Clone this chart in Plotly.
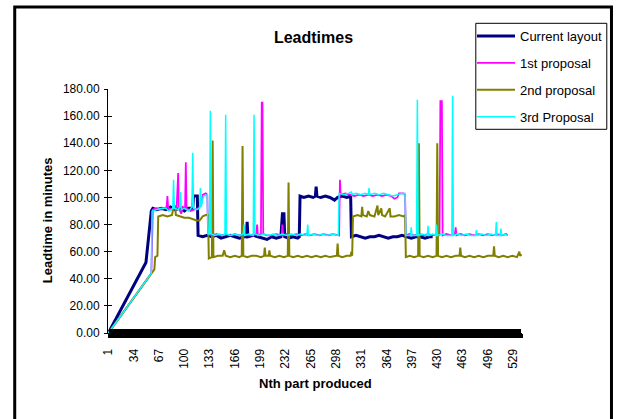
import plotly.graph_objects as go

# ---------------- data: line vertices ----------------
# x = "Nth part produced" (category number), y = leadtime in minutes
current_x = [1, 50, 57, 59, 64, 70, 76, 82, 88, 94, 100, 105, 111, 112, 117, 118,
             124, 130, 136, 142, 148, 154, 160, 166, 172, 178, 181, 182, 183, 190,
             196, 202, 208, 214, 220, 226, 228, 230, 231, 236, 242, 248, 250, 251,
             256, 262, 268, 271, 272, 273, 278, 284, 290, 296, 300, 306, 312, 317,
             318, 324, 330, 336, 342, 348, 354, 360, 366, 372, 378, 384, 390, 396,
             402, 408, 414, 420, 424]
current_y = [0, 52, 90, 92, 91, 92, 91, 93, 91, 92, 90, 92, 92, 101, 101, 72,
             71, 72, 71, 72, 70, 71, 72, 71, 70, 71, 71, 82, 71, 72,
             71, 70, 69, 71, 70, 71, 88, 88, 71, 70, 71, 70, 71, 101,
             100, 101, 100, 101, 108, 101, 100, 101, 100, 98, 100, 101, 100, 101,
             71, 72, 71, 70, 71, 71, 72, 71, 70, 71, 71, 72, 71, 70,
             71, 71, 70, 71, 71]

first_x = [1, 57, 59, 64, 70, 76, 77, 78, 79, 84, 88, 90, 92, 93, 96, 98, 101, 102,
           103, 108, 114, 118, 122, 124, 128, 130, 131, 136, 142, 148, 154, 160,
           166, 172, 178, 184, 190, 194, 195, 196, 200, 201, 202, 203, 208, 214,
           220, 226, 227, 228, 229, 234, 240, 246, 252, 258, 264, 270, 276, 282,
           288, 294, 300, 302, 303, 304, 310, 316, 322, 328, 334, 340, 346, 352,
           358, 364, 370, 374, 378, 380, 386, 388, 389, 394, 400, 406, 412, 418,
           424, 430, 433, 434, 436, 437, 442, 448, 453, 454, 455, 460, 466, 472,
           478, 484, 490, 496, 502, 508, 514, 520, 522]
first_y = [0, 44, 91, 92, 91, 93, 93, 101, 92, 91, 93, 92, 118, 92, 88, 93, 92, 126,
           92, 90, 91, 92, 94, 102, 103, 102, 73, 72, 73, 72, 73, 72,
           73, 72, 73, 72, 72, 73, 80, 72, 73, 170, 170, 73, 72, 72,
           73, 72, 72, 80, 72, 73, 72, 73, 72, 73, 72, 73, 72, 73,
           72, 73, 72, 72, 113, 102, 103, 102, 101, 102, 101, 102, 101, 102,
           101, 102, 101, 99, 100, 103, 103, 102, 72, 73, 72, 73, 72, 73,
           72, 73, 72, 171, 171, 72, 73, 72, 73, 78, 72, 73, 72, 73,
           72, 73, 72, 73, 72, 73, 72, 73, 72]

second_x = [1, 61, 62, 65, 66, 72, 78, 84, 86, 88, 89, 94, 100, 106, 112, 116, 120,
            124, 128, 131, 132, 136, 137, 138, 144, 150, 152, 154, 160, 166, 172,
            175, 176, 177, 182, 188, 194, 200, 204, 205, 206, 210, 211, 212, 218,
            224, 230, 235, 236, 237, 242, 248, 254, 260, 266, 272, 278, 284, 290,
            296, 299, 300, 301, 306, 312, 317, 318, 319, 320, 326, 331, 332, 333,
            338, 340, 342, 348, 352, 353, 357, 358, 362, 368, 369, 374, 380, 386,
            388, 389, 394, 400, 405, 406, 407, 412, 418, 424, 429, 430, 431, 436,
            442, 448, 454, 459, 460, 461, 466, 472, 478, 484, 490, 496, 503, 504,
            505, 510, 516, 522, 528, 534, 537, 538, 540]
second_y = [0, 47, 56, 57, 86, 87, 86, 87, 93, 94, 87, 86, 85, 85, 84, 83, 83,
            86, 87, 87, 55, 56, 142, 56, 57, 57, 61, 57, 56, 57, 56,
            57, 138, 57, 56, 57, 57, 56, 57, 63, 57, 57, 61, 57, 56,
            57, 56, 57, 111, 57, 56, 57, 56, 57, 56, 57, 56, 57, 56,
            57, 57, 66, 57, 56, 57, 57, 60, 57, 86, 87, 86, 93, 87,
            86, 90, 87, 86, 94, 87, 92, 87, 86, 92, 86, 86, 87, 86,
            87, 56, 57, 56, 57, 140, 57, 56, 57, 56, 57, 140, 57, 56,
            57, 56, 57, 57, 63, 57, 56, 57, 56, 57, 56, 57, 57, 64,
            57, 56, 57, 56, 57, 56, 60, 57, 58]

third_x = [1, 57, 58, 64, 70, 76, 80, 85, 86, 87, 92, 94, 95, 96, 100, 106, 110,
           111, 112, 116, 120, 121, 122, 125, 130, 131, 133, 134, 135, 140, 146,
           150, 153, 154, 155, 160, 166, 172, 177, 178, 179, 184, 190, 191, 192,
           198, 204, 210, 216, 222, 228, 234, 240, 246, 252, 258, 260, 261, 262,
           268, 274, 280, 286, 292, 298, 301, 302, 308, 314, 318, 319, 324, 330,
           336, 340, 341, 342, 348, 354, 360, 366, 372, 378, 384, 388, 389, 395,
           396, 397, 403, 404, 405, 410, 417, 418, 419, 424, 428, 429, 430, 436,
           442, 449, 450, 451, 456, 462, 468, 474, 480, 481, 482, 488, 494, 500,
           506, 507, 508, 512, 513, 514, 518, 522]
third_y = [0, 44, 90, 91, 92, 92, 90, 92, 113, 92, 91, 93, 104, 91, 92, 90, 93,
           133, 92, 91, 92, 107, 93, 101, 102, 73, 73, 164, 73, 72, 73,
           72, 73, 161, 73, 72, 73, 72, 73, 80, 72, 73, 72, 161, 73,
           72, 73, 72, 73, 72, 73, 72, 73, 72, 73, 72, 73, 80, 72,
           73, 72, 73, 72, 73, 72, 72, 103, 102, 103, 104, 102, 103, 102,
           103, 102, 107, 102, 103, 102, 103, 102, 101, 102, 103, 103, 72, 72,
           78, 72, 72, 172, 72, 73, 72, 79, 72, 73, 72, 80, 72, 73,
           72, 72, 175, 72, 73, 72, 73, 72, 72, 76, 72, 73, 72, 73,
           72, 82, 72, 72, 77, 72, 73, 72]

series_names = ["Current layout", "1st proposal", "2nd proposal", "3rd Proposal"]
series_x = [current_x, first_x, second_x, third_x]
series_y = [current_y, first_y, second_y, third_y]

n_categories = 540
x_tick_labels = [1, 34, 67, 100, 133, 166, 199, 232, 265, 298, 331, 364, 397,
                 430, 463, 496, 529]
y_ticks = [0, 20, 40, 60, 80, 100, 120, 140, 160, 180]

# ---------------- styling ----------------
colors = ["#000080", "#FF00FF", "#808000", "#00FFFF"]
widths = [3, 1.75, 2, 1.5]

W, H = 619, 419
L, R, T, B = 108, 96, 89, 86
PW = W - L - R
PH = H - T - B


def px(xp):
    return (xp - L) / PW


def py(yp):
    return (H - B - yp) / PH


FONT = "Liberation Sans, Arial, sans-serif"

fig = go.Figure()
for i, name in enumerate(series_names):
    fig.add_trace(go.Scatter(
        x=series_x[i], y=series_y[i], mode="lines", name=name,
        line=dict(color=colors[i], width=widths[i]),
        legendgroup="g%d" % i, hoverinfo="skip"))

# empty helper traces so the overlaid tick-mark axes get drawn
for xa, ya in (("x2", "y"), ("x3", "y"), ("x", "y2")):
    fig.add_trace(go.Scatter(x=[], y=[], xaxis=xa, yaxis=ya, mode="lines",
                             showlegend=False, hoverinfo="skip"))

xr = [0.5, n_categories + 0.5]
common_band = dict(overlaying="x", anchor="y", side="bottom", range=xr,
                   tickmode="linear", tick0=0.5, dtick=1, ticklen=4,
                   tickwidth=1, tickcolor="black",
                   showticklabels=False, showgrid=False, zeroline=False,
                   showline=False, fixedrange=True)

fig.update_layout(
    width=W, height=H,
    margin=dict(l=L, r=R, t=T, b=B, pad=0),
    paper_bgcolor="white", plot_bgcolor="white",
    font=dict(family=FONT, size=12, color="black"),
    showlegend=True,
    title=dict(text="<b>Leadtimes</b>", xref="paper", x=px(314), xanchor="center",
               yref="container", y=1 - 37.5 / H, yanchor="middle",
               font=dict(size=16, family=FONT, color="black")),
    xaxis=dict(range=xr, tickmode="array", tickvals=x_tick_labels,
               ticktext=[str(v) for v in x_tick_labels], tickangle=-90,
               ticks="outside", ticklen=4, tickcolor="black",
               ticklabelstandoff=6,
               showline=True, linecolor="black", linewidth=1,
               showgrid=False, zeroline=False, tickfont=dict(size=12)),
    xaxis2=dict(ticks="outside", **common_band),
    xaxis3=dict(ticks="inside", **common_band),
    yaxis=dict(range=[0, 180], tickmode="array", tickvals=y_ticks,
               tickformat=".2f", ticks="outside", ticklen=3, tickcolor="black",
               ticklabelstandoff=2,
               showline=True, linecolor="black", linewidth=1,
               showgrid=False, zeroline=False, tickfont=dict(size=12)),
    yaxis2=dict(overlaying="y", anchor="x", side="left", range=[0, 180],
                tickmode="array", tickvals=y_ticks, ticks="inside", ticklen=4,
                tickcolor="black", showticklabels=False, showgrid=False,
                zeroline=False, showline=False),
    legend=dict(x=px(472), y=py(21), xanchor="left", yanchor="top",
                bgcolor="rgba(0,0,0,0)", borderwidth=0,
                font=dict(size=13, family=FONT, color="black"),
                traceorder="grouped", tracegroupgap=7, itemwidth=38),
    annotations=[
        dict(text="<b>Nth part produced</b>", xref="paper", yref="paper",
             x=px(316), y=py(383), xanchor="center", yanchor="middle",
             showarrow=False, font=dict(size=13, family=FONT, color="black")),
        dict(text="<b>Leadtime in minutes</b>", xref="paper", yref="paper",
             x=px(47), y=py(220), xanchor="center", yanchor="middle",
             textangle=-90, showarrow=False,
             font=dict(size=13, family=FONT, color="black")),
    ],
    shapes=[
        # legend box
        dict(type="rect", xref="paper", yref="paper",
             x0=px(476.7), x1=px(608), y0=py(129.3), y1=py(23.3),
             line=dict(color="black", width=1), fillcolor="white",
             layer="above"),
        # chart-area frame
        dict(type="rect", xref="paper", yref="paper",
             x0=px(14.5), x1=px(612.7), y0=py(445), y1=py(7),
             line=dict(color="black", width=3), fillcolor="rgba(0,0,0,0)",
             layer="above"),
    ],
)

fig.write_html("out.html")
